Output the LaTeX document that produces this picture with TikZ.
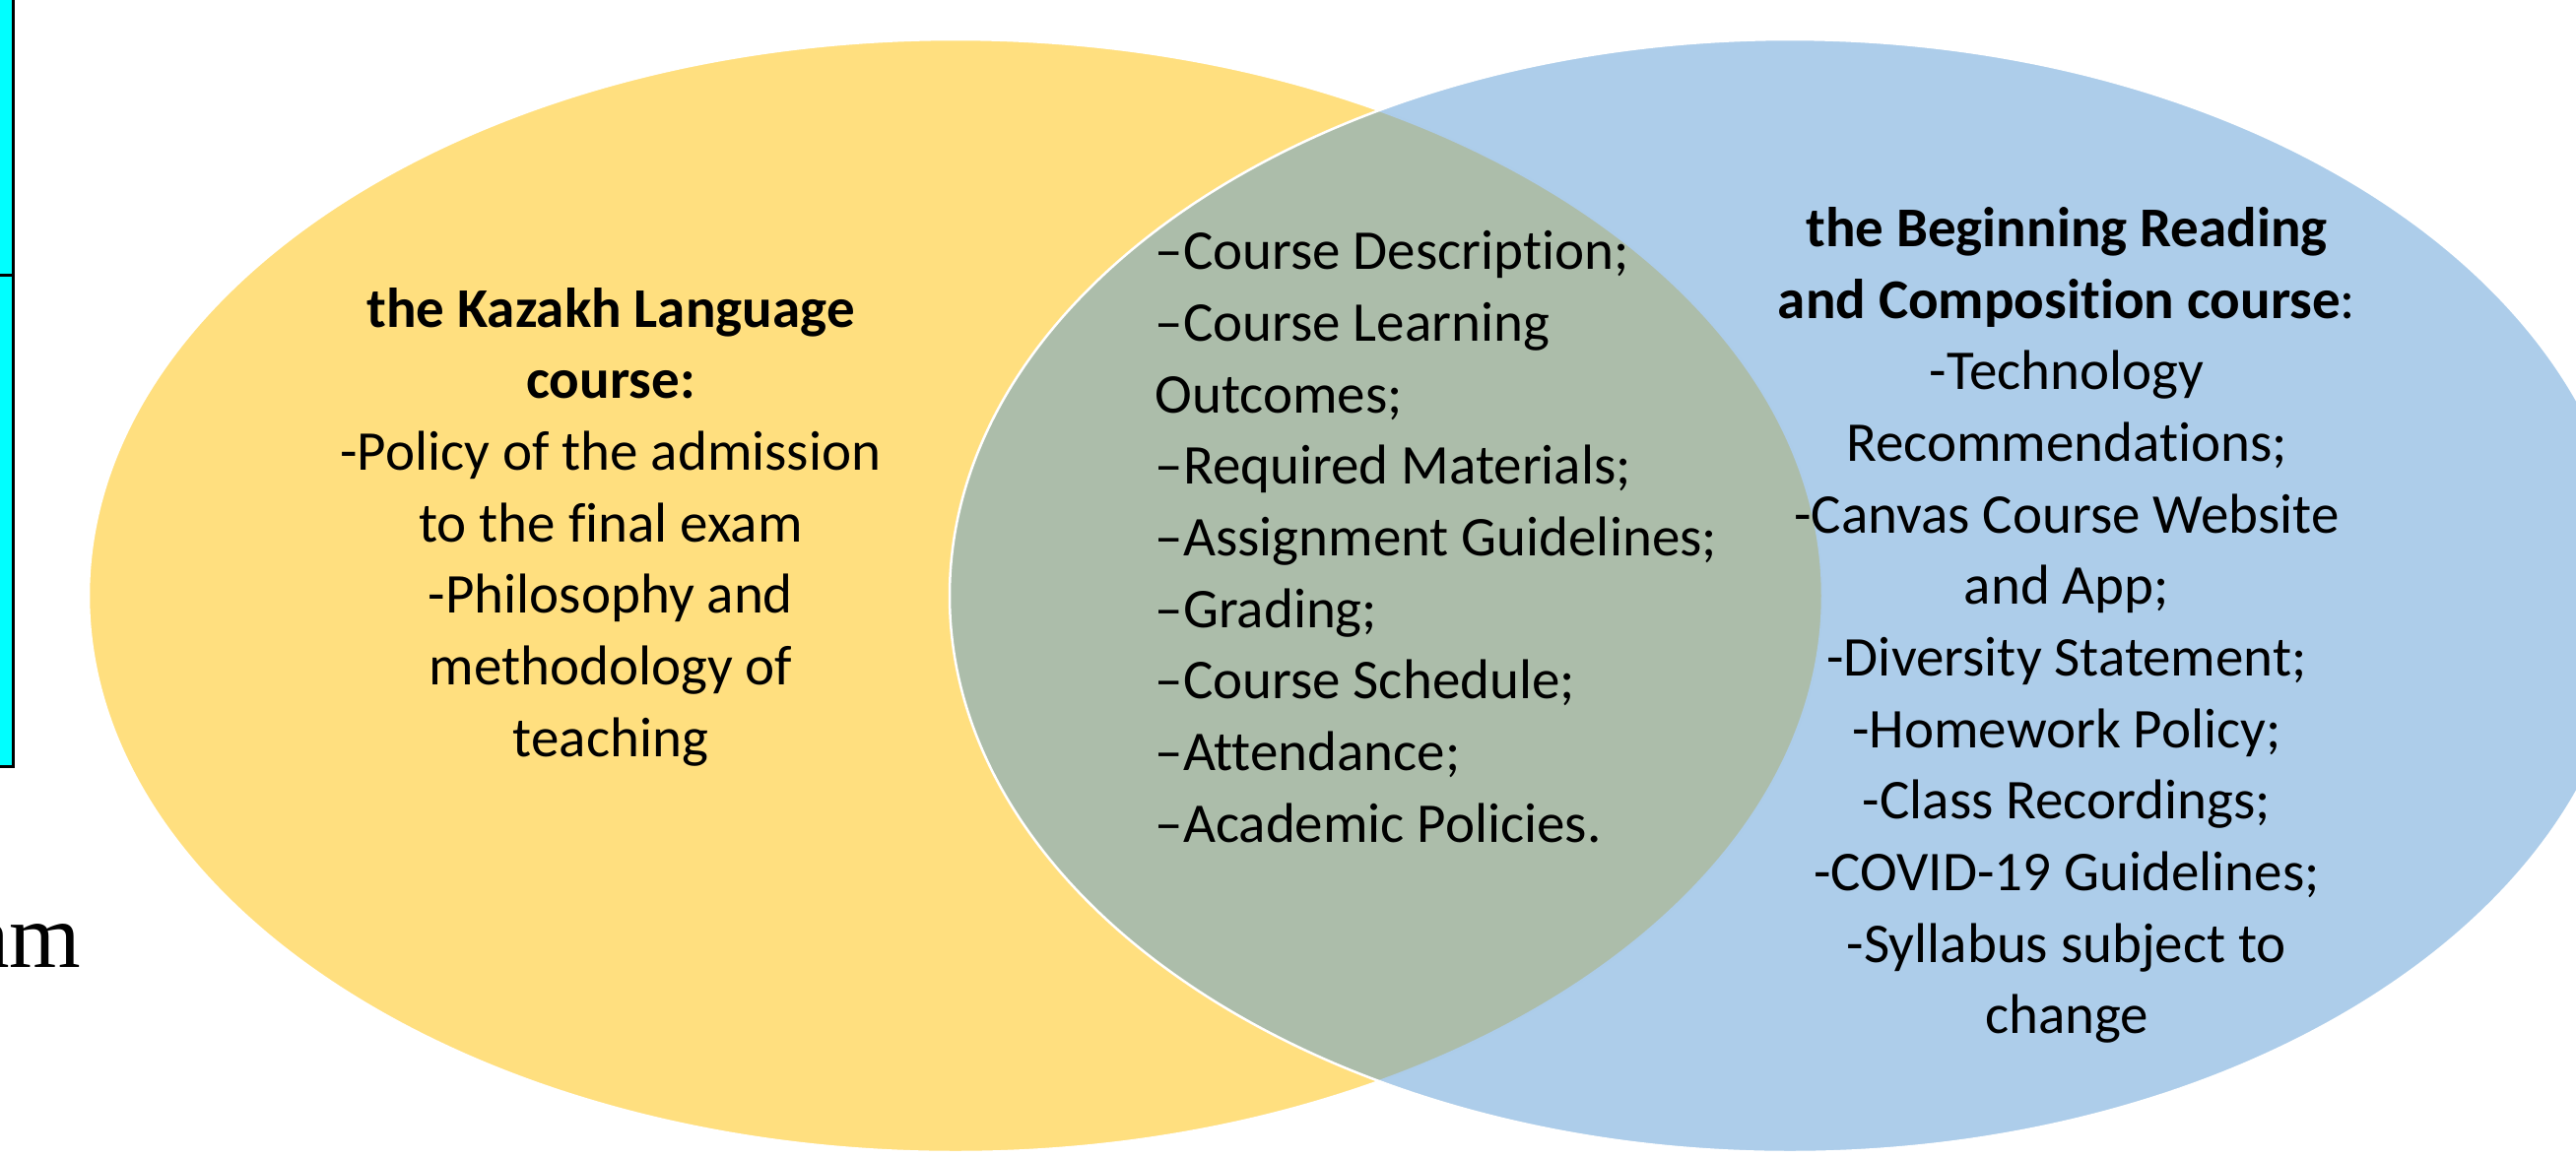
\documentclass[tikz,border=0pt]{standalone}
\usepackage{fontspec}
\setmainfont{Carlito}[Ligatures=NoCommon]
\newfontfamily\serifpart{Liberation Serif}
\usetikzlibrary{shapes.geometric}
\definecolor{kazfill}{HTML}{FFC000}
\definecolor{brcfill}{HTML}{5B9BD5}
\definecolor{tablecyan}{HTML}{00FFFF}
\begin{document}
\begin{tikzpicture}[x=0.3pt,y=-0.3pt,
  circle set/.style={ellipse, inner sep=0pt, outer sep=0pt, draw=white,
    line width=0.75pt, fill opacity=0.5, draw opacity=1},
  listtext/.style={inner sep=0pt, font=\fontsize{17.1}{21.8}\selectfont, text=black}]
\useasboundingbox (0,0) rectangle (2615,1175);
\clip (0,0) rectangle (2615,1175);
% table fragment on the left edge
\path[fill=tablecyan, draw=black, line width=0.9pt] (-20,-20) rectangle (13.5,778.5);
\draw[line width=0.75pt] (-20,279.5) -- (12,279.5);
\node[anchor=base east, inner sep=0pt, font=\serifpart\fontsize{28}{30}\selectfont] (tail) at (83,982) {am};
% the two course sets
\node[circle set, fill=kazfill, minimum width=528pt, minimum height=339pt] (kazakh) at (970,605) {};
\node[circle set, fill=brcfill, minimum width=511.8pt, minimum height=339pt] (brc) at (1817,605) {};
% set contents
\node[listtext, align=center] (kaztext) at (620,535)
  {\textbf{the Kazakh Language}\\ \textbf{course:}\\ -Policy of the admission\\ to the final exam\\
   -Philosophy and\\ methodology of\\ teaching};
\node[listtext, align=left, anchor=west] (shared) at (1172,545)
  {–Course Description;\\ –Course Learning\\ Outcomes;\\ –Required Materials;\\
   –Assignment Guidelines;\\ –Grading;\\ –Course Schedule;\\ –Attendance;\\ –Academic Policies.};
\node[listtext, align=center] (brctext) at (2098,635)
  {\textbf{the Beginning Reading}\\ \textbf{and Composition course}:\\ -Technology\\ Recommendations;\\
   -Canvas Course Website\\ and App;\\ -Diversity Statement;\\ -Homework Policy;\\ -Class Recordings;\\
   -COVID-19 Guidelines;\\ -Syllabus subject to\\ change};
\end{tikzpicture}
\end{document}
